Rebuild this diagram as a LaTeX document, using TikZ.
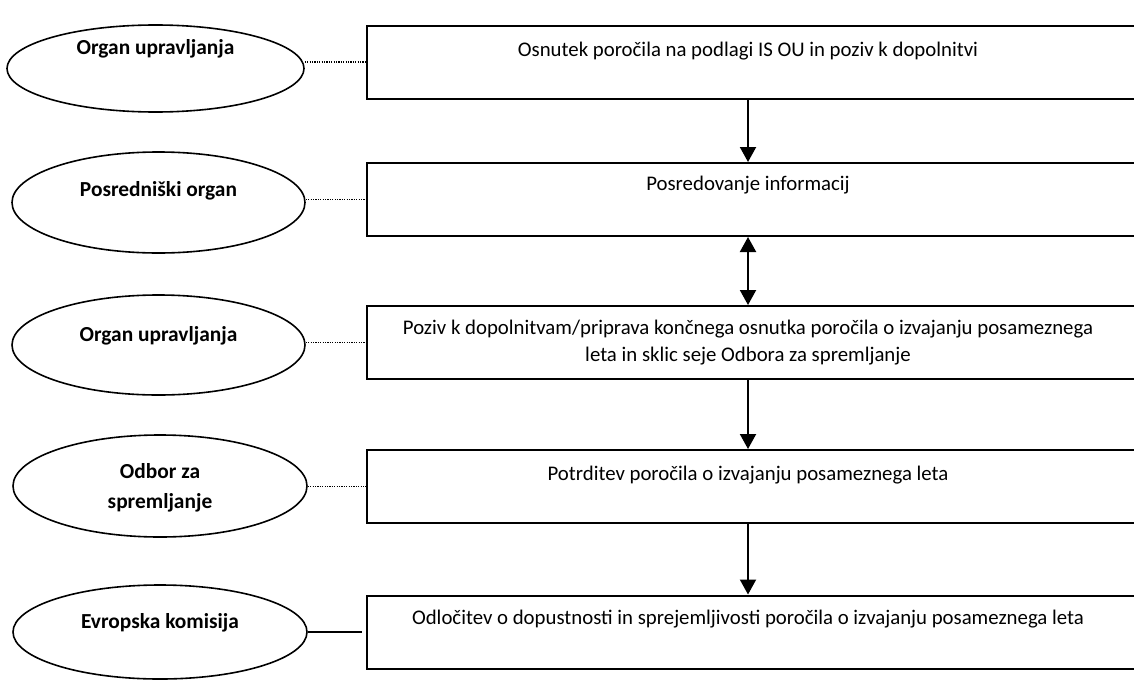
\documentclass[tikz,border=0pt]{standalone}
\usepackage{fontspec}
\setmainfont{Carlito}
\usetikzlibrary{shapes.geometric,arrows.meta}
\tikzset{
	stepbox/.style={draw, rectangle, line width=1pt, minimum width=386.5pt, minimum height=36.5pt, inner sep=0pt},
	organ/.style={draw, ellipse, line width=0.8pt, inner sep=0pt},
	organtxt/.style={font=\fontsize{10.7}{15}\selectfont\bfseries, align=center, inner sep=0pt},
	steptxt/.style={font=\fontsize{10.4}{13.5}\selectfont, align=center, inner sep=0pt},
	flow/.style={line width=1pt, -{Triangle[width=8pt,length=7.5pt]}},
	flowboth/.style={line width=1pt, {Triangle[width=8pt,length=7.5pt]}-{Triangle[width=8pt,length=7.5pt]}},
	link/.style={line width=0.8pt, dash pattern=on 0.6pt off 0.6pt},
}
\begin{document}
\begin{tikzpicture}[x=0.5pt,y=-0.5pt]
		\clip (0,0) rectangle (1134,680);
		
		% koraki postopka
		\node[stepbox] at (753.5,62) (b1) {};
		\node[stepbox] at (753.5,199.5) (b2) {};
		\node[stepbox] at (753.5,342.5) (b3) {};
		\node[stepbox] at (753.5,486.5) (b4) {};
		\node[stepbox] at (753.5,632) (b5) {};
		
		\node[steptxt] at (748,51) (t1) {Osnutek poročila na podlagi IS OU in poziv k dopolnitvi};
		\node[steptxt] at (748,185) (t2) {Posredovanje informacij};
		\node[steptxt] at (748,343) (t3) {Poziv k dopolnitvam/priprava končnega osnutka poročila o izvajanju posameznega\\leta in sklic seje Odbora za spremljanje};
		\node[steptxt] at (748,475) (t4) {Potrditev poročila o izvajanju posameznega leta};
		\node[steptxt] at (748,619) (t5) {Odločitev o dopustnosti in sprejemljivosti poročila o izvajanju posameznega leta};
		
		% organi
		\node[organ, minimum width=148.5pt, minimum height=43.5pt] at (155.5,68.5) (o1) {};
		\node[organ, minimum width=146.5pt, minimum height=50.5pt] at (158.5,202.5) (o2) {};
		\node[organ, minimum width=146.5pt, minimum height=50pt] at (158.5,345) (o3) {};
		\node[organ, minimum width=147pt, minimum height=51pt] at (160,486) (o4) {};
		\node[organ, minimum width=147pt, minimum height=47pt] at (160,632) (o5) {};
		
		\node[organtxt] at (155.5,49) (o1t) {Organ upravljanja};
		\node[organtxt] at (158.5,191) (o2t) {Posredniški organ};
		\node[organtxt] at (158.5,336) (o3t) {Organ upravljanja};
		\node[organtxt] at (160,488) (o4t) {Odbor za\\spremljanje};
		\node[organtxt] at (160,623) (o5t) {Evropska komisija};
		
		% povezave
		\draw[link] (o1.east |- b1.west) -- (b1.west);
		\draw[link] (o2.east |- b2.west) -- (b2.west);
		\draw[link] (o3.east |- b3.west) -- (b3.west);
		\draw[link] (o4.east |- b4.west) -- (b4.west);
		\draw[line width=0.8pt, shorten >=2pt] (o5.east |- b5.west) -- (b5.west);
		
		\draw[flow] (b1.south -| t1) -- (b2.north -| t1);
		\draw[flowboth] (b2.south -| t1) -- (b3.north -| t1);
		\draw[flow] (b3.south -| t1) -- (b4.north -| t1);
		\draw[flow] (b4.south -| t1) -- (b5.north -| t1);
\end{tikzpicture}
\end{document}
